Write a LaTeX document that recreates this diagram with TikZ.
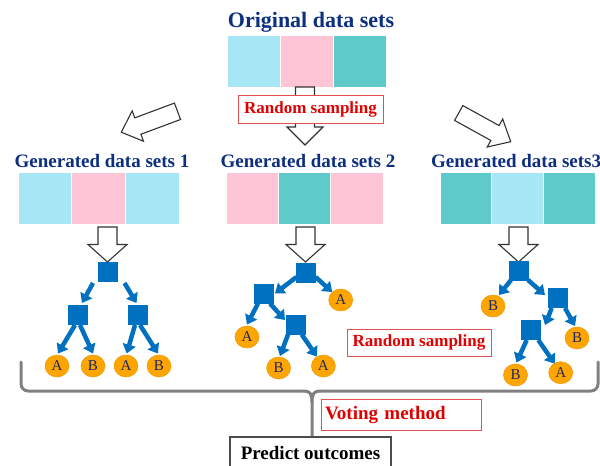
\documentclass[tikz,border=0pt]{standalone}
\usepackage{fontspec}
\setmainfont{Liberation Serif}
\usetikzlibrary{arrows.meta,calc,shapes.geometric}
\definecolor{lblue}{RGB}{166,230,245}
\definecolor{lpink}{RGB}{253,197,213}
\definecolor{lteal}{RGB}{94,203,202}
\definecolor{navy}{RGB}{13,47,128}
\definecolor{treeblue}{RGB}{0,112,192}
\definecolor{leaforange}{RGB}{255,165,0}
\definecolor{leafedge}{RGB}{242,150,0}
\definecolor{lettercol}{RGB}{30,38,100}
\definecolor{redtext}{RGB}{224,0,0}
\definecolor{redborder}{RGB}{228,80,80}
\definecolor{bracegray}{RGB}{128,128,128}
\newcommand\hollowarr[6]{%
  \draw[harrow, shift={#1}, rotate=#2] (0,#4) -- ({#3-#6},#4) -- ({#3-#6},#5) -- (#3,0)
    -- ({#3-#6},-#5) -- ({#3-#6},-#4) -- (0,-#4) -- cycle;}
\begin{document}
\begin{tikzpicture}[x=1pt,y=-1pt,
  cell/.style={rectangle, draw=white, line width=0.4pt, minimum width=53pt, minimum height=52pt, inner sep=0pt},
  heading/.style={text=navy, font=\fontsize{19}{22}\selectfont\bfseries, inner sep=0pt},
  harrow/.style={draw=black!80, line width=1.1pt, fill=white, line join=miter},
  sq/.style={rectangle, fill=treeblue, minimum width=20pt, minimum height=20pt, inner sep=0pt},
  leaf/.style={ellipse, fill=leaforange, draw=leafedge, line width=0.5pt, minimum width=24pt, minimum height=22pt, inner sep=0pt, text=lettercol, font=\fontsize{15}{17}\selectfont},
  tarr/.style={draw=treeblue, line width=4.5pt, -{Triangle[length=9pt,width=13pt]}},
  redbox/.style={rectangle, draw=redborder, line width=1pt, fill=white, text=redtext, font=\fontsize{17}{20}\selectfont\bfseries, inner sep=0pt},
  brace/.style={draw=bracegray, line width=3pt, line cap=round}
]
\useasboundingbox (0,0) rectangle (600,466);
\clip (0,0) rectangle (600,466);

% title
\node[heading, font=\fontsize{22}{26}\selectfont\bfseries, anchor=base] (title) at (311,27) {Original data sets};

% original data set
\node[cell, fill=lblue] (o1) at (253.5,61) {};
\node[cell, fill=lpink] (o2) at (306.5,61) {};
\node[cell, fill=lteal] (o3) at (359.5,61) {};

% hollow arrows
\coordinate (ot) at (305,87);
\hollowarr{(ot)}{-90}{58}{9.5}{18}{18}
\hollowarr{(177.5,111.3)}{200.4}{60}{8.75}{16.2}{17.7}
\hollowarr{(458.7,113)}{-28.9}{59.4}{8.5}{16}{18}

\node[redbox, minimum width=145pt, minimum height=28pt] (rs1) at (310.5,109) {Random sampling};

% generated headings
\node[heading, anchor=base] (g1) at (102,167) {Generated data sets 1};
\node[heading, anchor=base] (g2) at (308,167) {Generated data sets 2};
\node[heading, anchor=base west] (g3) at (431,167) {Generated data sets3};

% generated data sets
\node[cell, fill=lblue, minimum width=53.7pt] (s11) at (44.8,198.5) {};
\node[cell, fill=lpink, minimum width=53.7pt] (s12) at (98.5,198.5) {};
\node[cell, fill=lblue, minimum width=53.7pt] (s13) at (152.2,198.5) {};

\node[cell, fill=lpink, minimum width=52.3pt] (s21) at (252.2,198.5) {};
\node[cell, fill=lteal, minimum width=52.3pt] (s22) at (304.5,198.5) {};
\node[cell, fill=lpink, minimum width=52.3pt] (s23) at (356.8,198.5) {};

\node[cell, fill=lteal, minimum width=51.7pt] (s31) at (465.8,198.5) {};
\node[cell, fill=lblue, minimum width=51.7pt] (s32) at (517.5,198.5) {};
\node[cell, fill=lteal, minimum width=51.7pt] (s33) at (569.2,198.5) {};

% arrows to trees
\hollowarr{(107.5,227)}{-90}{35}{9.5}{19.5}{17.5}
\hollowarr{(305.5,227)}{-90}{35}{9.5}{19.5}{17.5}
\hollowarr{(518.5,227)}{-90}{35}{9.5}{19.5}{17.5}

% tree 1
\node[sq] (r1) at (107.5,271.5) {};
\node[sq] (a1) at (78,315) {};
\node[sq] (b1) at (137.5,315) {};
\node[leaf] (l11) at (57,366) {A};
\node[leaf] (l12) at (93,366) {B};
\node[leaf] (l13) at (126,366) {A};
\node[leaf] (l14) at (159,366) {B};
\draw[tarr] ($(r1)+(-14.5,11.5)$) -- ($(a1)+(4,-12)$);
\draw[tarr] ($(r1)+(17,11.5)$) -- ($(b1)+(-1,-12)$);
\draw[tarr] ($(a1)+(-3,10)$) -- ($(l11)+(1,-12.5)$);
\draw[tarr] ($(a1)+(2,10)$) -- ($(l12)+(0,-12.5)$);
\draw[tarr] ($(b1)+(-2.5,10)$) -- ($(l13)+(0.7,-12.5)$);
\draw[tarr] ($(b1)+(2.5,10)$) -- ($(l14)+(-1,-12.5)$);

% tree 2
\node[sq] (r2) at (305.5,273) {};
\node[sq] (a2) at (264,293.5) {};
\node[sq] (c2) at (296,324.5) {};
\node[leaf] (l21) at (340.7,300) {A};
\node[leaf] (l22) at (247,337) {A};
\node[leaf] (l23) at (278.6,368) {B};
\node[leaf] (l24) at (323.4,366) {A};
\draw[tarr] ($(r2)+(-9,4)$) -- ($(a2)+(11,0)$);
\draw[tarr] ($(r2)+(10,4)$) -- ($(l21)+(-8.5,-8)$);
\draw[tarr] ($(a2)+(-6,10)$) -- ($(l22)+(0,-12.5)$);
\draw[tarr] ($(a2)+(6,10)$) -- ($(c2)+(-11,-4.5)$);
\draw[tarr] ($(c2)+(-8,10)$) -- ($(l23)+(1.4,-12)$);
\draw[tarr] ($(c2)+(5.7,10)$) -- ($(l24)+(-6.5,-9.5)$);

% tree 3
\node[sq] (r3) at (519,271) {};
\node[sq] (a3) at (558,298) {};
\node[sq] (c3) at (531,330) {};
\node[leaf] (l31) at (493,306) {B};
\node[leaf] (l32) at (577,338) {B};
\node[leaf] (l33) at (515.5,375) {B};
\node[leaf] (l34) at (560.7,372.7) {A};
\draw[tarr] ($(r3)+(-8,9)$) -- ($(l31)+(6,-11)$);
\draw[tarr] ($(r3)+(9,9)$) -- ($(a3)+(-13,-3)$);
\draw[tarr] ($(a3)+(-6.3,10)$) -- ($(c3)+(14,-5)$);
\draw[tarr] ($(a3)+(7,10)$) -- ($(l32)+(-2,-12)$);
\draw[tarr] ($(c3)+(-4.3,10)$) -- ($(l33)+(1,-12.5)$);
\draw[tarr] ($(c3)+(7.3,10)$) -- ($(l34)+(-6,-9)$);

% second random sampling label
\node[redbox, minimum width=144pt, minimum height=27pt] (rs2) at (419,342.5) {Random sampling};

% bracket
\coordinate (bl) at (21,362);
\coordinate (br) at (598,362);
\coordinate (bs) at (312,436);
\draw[brace, rounded corners=7pt] (bl) -- (21,391) -- (304,391);
\draw[brace, rounded corners=7pt] (br) -- (598,391) -- (320,391);
\draw[brace] (304,391) .. controls (310,391) and (312,394) .. (312,402) -- (bs);
\draw[brace] (320,391) .. controls (314,391) and (312,394) .. (312,402);

% voting method
\node[redbox, minimum width=160pt, minimum height=31pt, text width=152pt, align=left, font=\fontsize{19}{22}\selectfont\bfseries] (vm) at (401,414.5) {Voting method};

% predict outcomes
\node[rectangle, draw=black!70, line width=1.2pt, fill=white, minimum width=161pt, minimum height=32pt, inner sep=0pt, font=\fontsize{19}{22}\selectfont\bfseries] (po) at (310.5,453) {Predict outcomes};
\end{tikzpicture}
\end{document}
